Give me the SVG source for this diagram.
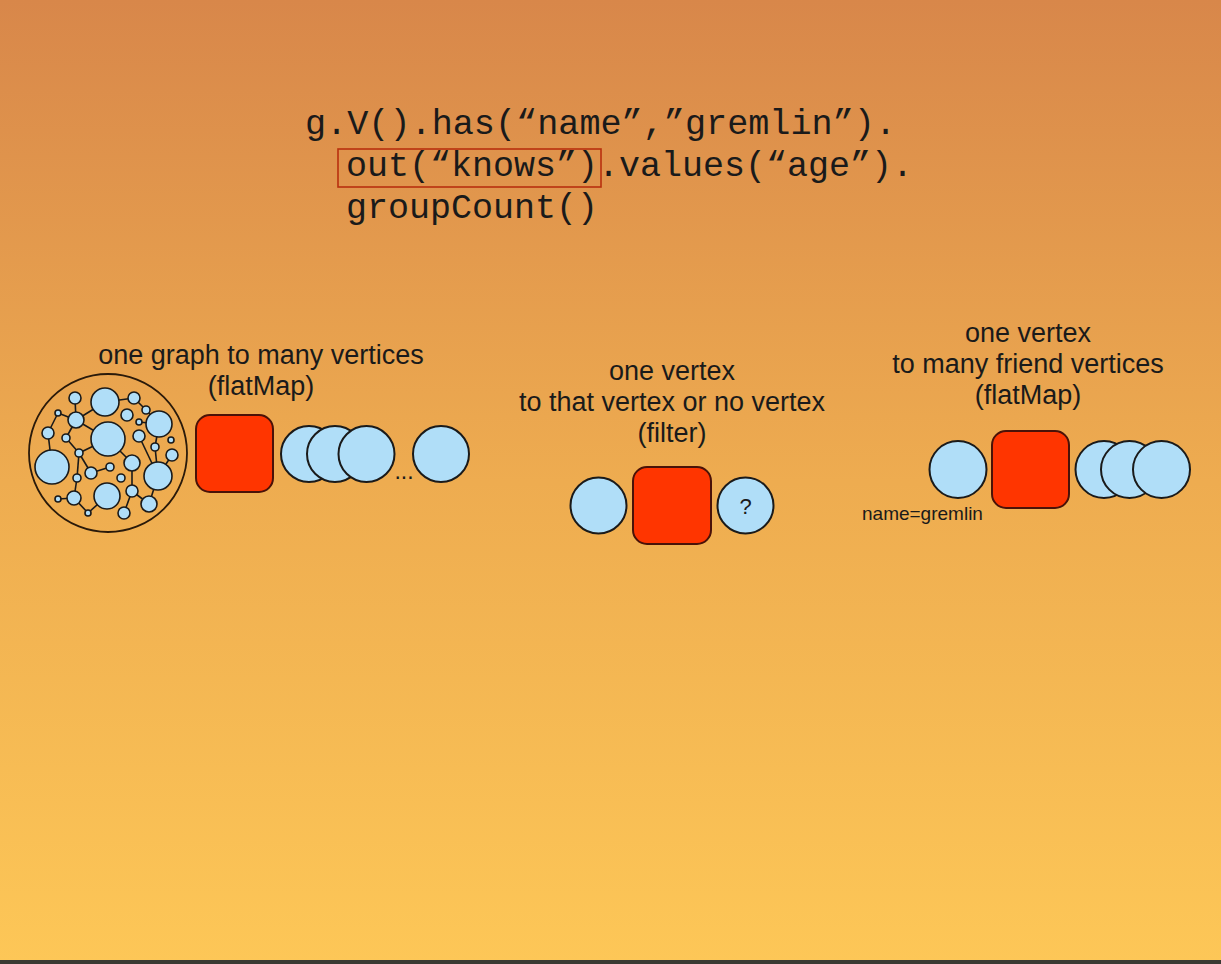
<svg xmlns="http://www.w3.org/2000/svg" width="1221" height="964" viewBox="0 0 1221 964">
<defs>
<linearGradient id="bg" x1="0" y1="0" x2="0" y2="1">
<stop offset="0" stop-color="#D8874A"/>
<stop offset="0.5" stop-color="#EEAC50"/>
<stop offset="1" stop-color="#FDC757"/>
</linearGradient>
</defs>
<style>
.v{fill:#B0DEF8;stroke:#1a1a1a;stroke-width:2}
.sv{fill:#B0DEF8;stroke:#1a1a1a;stroke-width:1.6}
.op{fill:#FF3500;stroke:#4a1208;stroke-width:2}
.e{stroke:#1a1a1a;stroke-width:1.6;fill:none}
.code{font-family:"Liberation Mono","Courier New",monospace;font-size:35px;fill:#1a1a1a}
.lbl{font-family:"Liberation Sans",Arial,sans-serif;font-size:27px;fill:#1a1a1a;text-anchor:middle}
.sm{font-family:"Liberation Sans",Arial,sans-serif;font-size:19px;fill:#1a1a1a}
</style>
<rect x="0" y="0" width="1221" height="964" fill="url(#bg)"/>
<rect x="0" y="960" width="1221" height="4" fill="#3a3a32"/>

<g id="code">
<text class="code" x="305" y="134" textLength="591" lengthAdjust="spacingAndGlyphs">g.V().has(“name”,”gremlin”).</text>
<text class="code" x="346" y="176">out(“knows”).values(“age”).</text>
<text class="code" x="346" y="218">groupCount()</text>
<rect x="338" y="149" width="263" height="38" fill="none" stroke="#B8300E" stroke-width="1.6"/>
</g>

<g id="label-left">
<text class="lbl" x="261" y="364">one graph to many vertices</text>
<text class="lbl" x="261" y="395">(flatMap)</text>
</g>
<g id="label-middle">
<text class="lbl" x="672" y="380">one vertex</text>
<text class="lbl" x="672" y="411">to that vertex or no vertex</text>
<text class="lbl" x="672" y="442">(filter)</text>
</g>
<g id="label-right">
<text class="lbl" x="1028" y="342">one vertex</text>
<text class="lbl" x="1028" y="373">to many friend vertices</text>
<text class="lbl" x="1028" y="404">(flatMap)</text>
</g>

<g id="graph">
<circle cx="108" cy="453" r="79" fill="none" stroke="#2a1a0a" stroke-width="1.8"/>
<g id="graph-edges">
<line class="e" x1="75" y1="398" x2="76" y2="420"/>
<line class="e" x1="58" y1="413" x2="76" y2="420"/>
<line class="e" x1="58" y1="413" x2="48" y2="433"/>
<line class="e" x1="76" y1="420" x2="105" y2="402"/>
<line class="e" x1="76" y1="420" x2="108" y2="439"/>
<line class="e" x1="66" y1="438" x2="76" y2="420"/>
<line class="e" x1="66" y1="438" x2="79" y2="453"/>
<line class="e" x1="48" y1="433" x2="52" y2="467"/>
<line class="e" x1="108" y1="439" x2="79" y2="453"/>
<line class="e" x1="79" y1="453" x2="77" y2="478"/>
<line class="e" x1="79" y1="453" x2="91" y2="473"/>
<line class="e" x1="91" y1="473" x2="110" y2="467"/>
<line class="e" x1="77" y1="478" x2="74" y2="498"/>
<line class="e" x1="74" y1="498" x2="58" y2="499"/>
<line class="e" x1="74" y1="498" x2="88" y2="513"/>
<line class="e" x1="88" y1="513" x2="107" y2="496"/>
<line class="e" x1="108" y1="439" x2="132" y2="463"/>
<line class="e" x1="132" y1="463" x2="132" y2="491"/>
<line class="e" x1="132" y1="491" x2="124" y2="513"/>
<line class="e" x1="132" y1="491" x2="149" y2="504"/>
<line class="e" x1="105" y1="402" x2="134" y2="398"/>
<line class="e" x1="134" y1="398" x2="146" y2="410"/>
<line class="e" x1="146" y1="410" x2="159" y2="424"/>
<line class="e" x1="139" y1="422" x2="159" y2="424"/>
<line class="e" x1="159" y1="424" x2="155" y2="447"/>
<line class="e" x1="155" y1="447" x2="158" y2="476"/>
<line class="e" x1="139" y1="436" x2="158" y2="476"/>
<line class="e" x1="172" y1="455" x2="158" y2="476"/>
<line class="e" x1="158" y1="476" x2="149" y2="504"/>
</g>
<circle class="sv" cx="75" cy="398" r="6"/>
<circle class="sv" cx="105" cy="402" r="14"/>
<circle class="sv" cx="134" cy="398" r="6"/>
<circle class="sv" cx="146" cy="410" r="4"/>
<circle class="sv" cx="127" cy="415" r="6"/>
<circle class="sv" cx="58" cy="413" r="3"/>
<circle class="sv" cx="76" cy="420" r="8"/>
<circle class="sv" cx="159" cy="424" r="13"/>
<circle class="sv" cx="139" cy="422" r="3"/>
<circle class="sv" cx="48" cy="433" r="6"/>
<circle class="sv" cx="66" cy="438" r="4"/>
<circle class="sv" cx="108" cy="439" r="17"/>
<circle class="sv" cx="139" cy="436" r="6"/>
<circle class="sv" cx="171" cy="440" r="3"/>
<circle class="sv" cx="155" cy="447" r="4"/>
<circle class="sv" cx="172" cy="455" r="6"/>
<circle class="sv" cx="79" cy="453" r="4"/>
<circle class="sv" cx="52" cy="467" r="17"/>
<circle class="sv" cx="132" cy="463" r="8"/>
<circle class="sv" cx="110" cy="467" r="4"/>
<circle class="sv" cx="91" cy="473" r="6"/>
<circle class="sv" cx="121" cy="478" r="4"/>
<circle class="sv" cx="77" cy="478" r="4"/>
<circle class="sv" cx="158" cy="476" r="14"/>
<circle class="sv" cx="132" cy="491" r="6"/>
<circle class="sv" cx="107" cy="496" r="13"/>
<circle class="sv" cx="74" cy="498" r="7"/>
<circle class="sv" cx="58" cy="499" r="3"/>
<circle class="sv" cx="149" cy="504" r="8"/>
<circle class="sv" cx="124" cy="513" r="6"/>
<circle class="sv" cx="88" cy="513" r="3"/>
</g>

<g id="step-left">
<rect class="op" x="196" y="415" width="77" height="77" rx="14"/>
</g>
<g id="out-left">
<circle class="v" cx="309" cy="454" r="28"/>
<circle class="v" cx="335" cy="454" r="28"/>
<circle class="v" cx="366.5" cy="454" r="28"/>
<text x="404" y="479" font-family="Liberation Sans, Arial, sans-serif" font-size="23" fill="#1a1a1a" text-anchor="middle">...</text>
<circle class="v" cx="441" cy="454" r="28"/>
</g>

<g id="in-middle">
<circle class="v" cx="598.5" cy="505.5" r="28"/>
</g>
<g id="step-middle">
<rect class="op" x="633" y="467" width="78" height="77" rx="14"/>
</g>
<g id="out-middle">
<circle class="v" cx="745.5" cy="505.5" r="28"/>
<text x="745.5" y="514" font-family="Liberation Sans, Arial, sans-serif" font-size="22" fill="#1a1a1a" text-anchor="middle">?</text>
</g>

<g id="in-right">
<circle class="v" cx="958" cy="469.5" r="28.5"/>
<text class="sm" x="862" y="520">name=gremlin</text>
</g>
<g id="step-right">
<rect class="op" x="992" y="431" width="77" height="77" rx="14"/>
</g>
<g id="out-right">
<circle class="v" cx="1104" cy="469.5" r="28.5"/>
<circle class="v" cx="1129.5" cy="469.5" r="28.5"/>
<circle class="v" cx="1161.5" cy="469.5" r="28.5"/>
</g>
</svg>
